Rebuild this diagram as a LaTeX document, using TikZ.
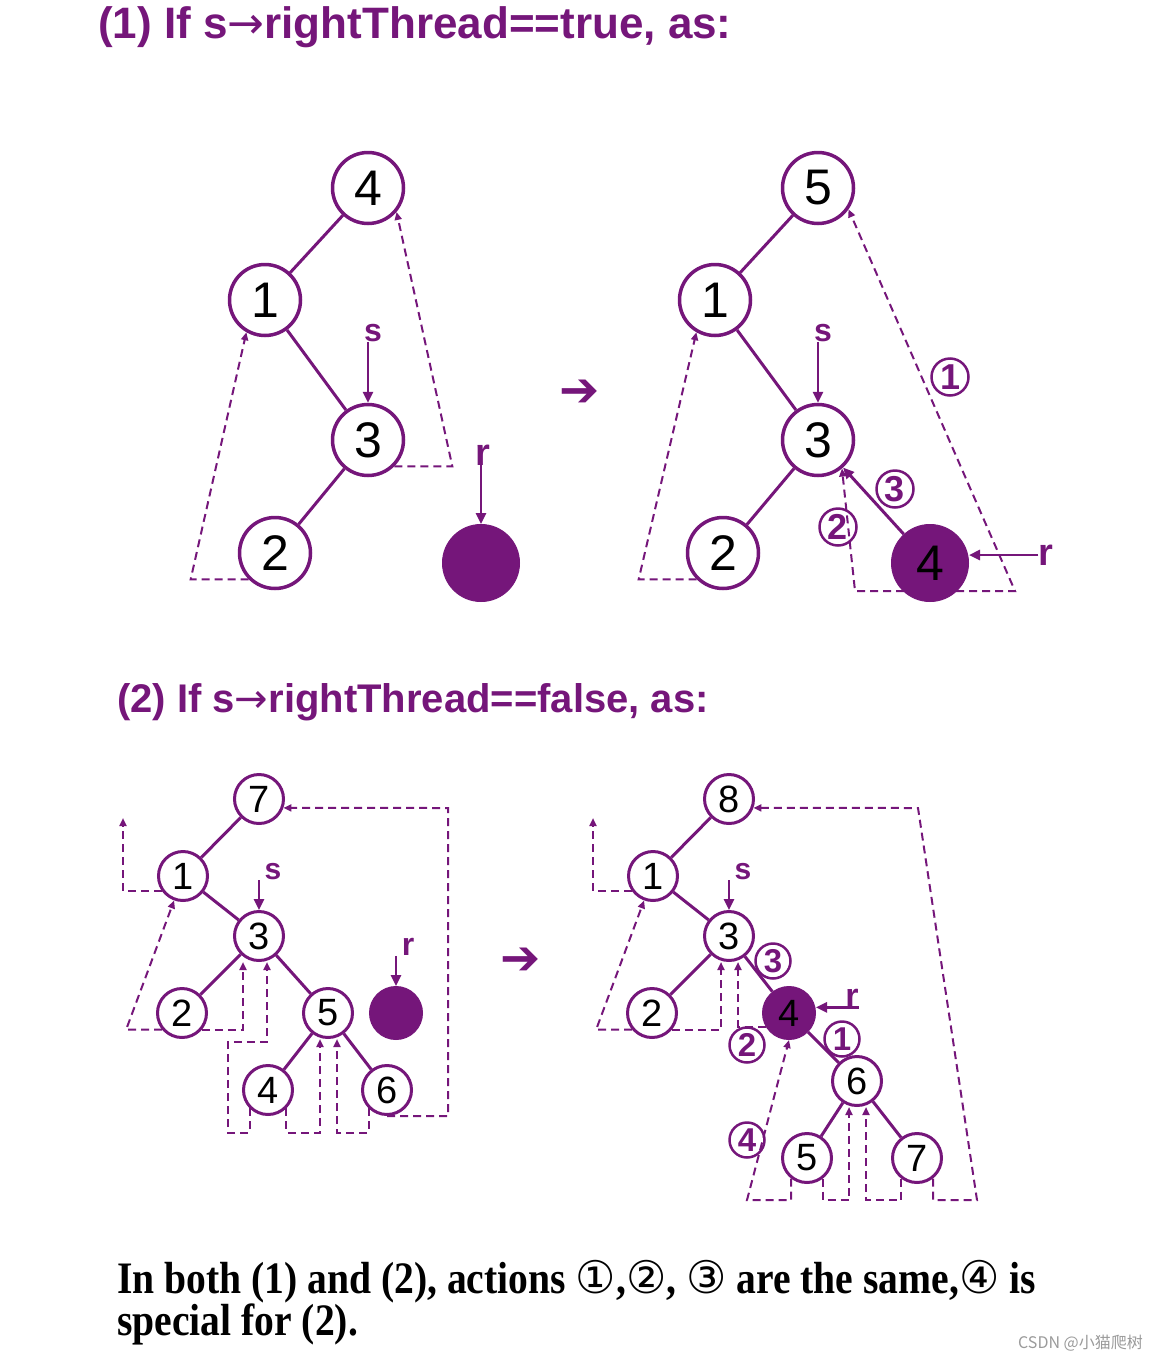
\documentclass[tikz,border=0pt]{standalone}
\usepackage{fontspec}
\setmainfont{Liberation Sans}
\newfontfamily\notefont{Liberation Serif}[FakeStretch=0.88]
\newfontfamily\symfont{DejaVu Sans}
\newfontfamily\cjkfont{Noto Sans CJK SC}
\usepackage{tikz}
\usetikzlibrary{arrows.meta,backgrounds}
\definecolor{thread}{HTML}{75167A}
\definecolor{mark}{HTML}{9A9A9A}

\begin{document}
\begin{tikzpicture}[
  x=1pt,y=-1pt,
  nd/.style={circle,draw=thread,fill=white,line width=3.5pt,minimum size=71pt,
    inner sep=0pt,font=\fontsize{50}{50}\selectfont},
  sm/.style={nd,line width=3pt,minimum size=49pt,font=\fontsize{38}{38}\selectfont},
  full/.style={fill=thread,line width=1pt},
  edge/.style={draw=thread,line width=3pt},
  ptr/.style={draw=thread,line width=2.5pt,-{Triangle[length=11pt,width=10pt]}},
  thr/.style={draw=thread,line width=2pt,dash pattern=on 8pt off 5pt,
    -{Triangle[length=8pt,width=7pt]}},
  num/.style={circle,draw=thread,line width=2.5pt,minimum size=37pt,inner sep=0pt,
    text=thread,font=\bfseries\fontsize{36}{36}\selectfont},
  numsm/.style={num,minimum size=35pt,font=\bfseries\fontsize{33}{33}\selectfont},
  lbl/.style={inner sep=0pt,text=thread,font=\bfseries\fontsize{32}{32}\selectfont},
  title/.style={anchor=base west,inner sep=0pt,text=thread},
  note/.style={anchor=base west,inner sep=0pt,font=\notefont\bfseries\fontsize{45}{45}\selectfont},
  go/.style={inner sep=0pt,text=thread,font=\symfont\fontsize{48}{48}\selectfont}
]
\useasboundingbox (0,0) rectangle (1160,1360);

\node[title,font=\bfseries\fontsize{44}{44}\selectfont] (head1) at (98,38) {(1) If s{\symfont\mdseries →}rightThread==true, as:};

\node[nd] (a4) at (368,188) {4};
\node[nd] (a1) at (265,300) {1};
\node[nd] (a3) at (368,440) {3};
\node[nd] (a2) at (275,553) {2};
\node[nd,full,minimum size=77pt] (ar) at (481,563) {};
\node[lbl] (sa) at (373,333) {s};
\node[lbl,font=\bfseries\fontsize{38}{38}\selectfont] (ra) at (483,455) {r};

\draw[edge] (a4) -- (a1);
\draw[edge] (a1) -- (a3);
\draw[edge] (a3) -- (a2);
\draw[ptr] (sa.south -| a3.north) -- (a3);
\draw[ptr] (ra.south -| ar.north) -- (ar);
\begin{scope}[on background layer]
\draw[thr] (a2.225) -- ++(-58,0) -- (a1.240);
\draw[thr] (a3.315) -- ++(58,0) -- (a4.320);
\end{scope}

\node[go] (go1) at (580,393) {➔};

\node[nd] (b5) at (818,188) {5};
\node[nd] (b1) at (715,300) {1};
\node[nd] (b3) at (818,440) {3};
\node[nd] (b2) at (723,553) {2};
\node[nd,full,minimum size=77pt] (b4) at (930,563) {4};
\node[lbl] (sb) at (823,333) {s};
\node[lbl,font=\bfseries\fontsize{38}{38}\selectfont] (rb) at (1046,555) {r};
\node[num] (ma1) at (950,377) {1};
\node[num] (ma3) at (895,489) {3};
\node[num] (ma2) at (838,527) {2};

\draw[edge] (b5) -- (b1);
\draw[edge] (b1) -- (b3);
\draw[edge] (b3) -- (b2);
\draw[edge,-{Triangle[length=11pt,width=10pt]}] (b4) -- (b3);
\draw[ptr] (sb.south -| b3.north) -- (b3);
\draw[ptr] (rb.west) -- (rb.west -| b4.east);
\begin{scope}[on background layer]
\draw[thr] (b2.225) -- ++(-58,0) -- (b1.240);
\draw[thr] (b4.center) ++(0,28) -- ++(85,0) -- (b5.325);
\draw[thr] (b4.center) ++(0,28) -- ++(-75,0) -- (b3.310);
\end{scope}

\node[title,font=\bfseries\fontsize{40}{40}\selectfont] (head2) at (117,712) {(2) If s{\symfont\mdseries →}rightThread==false, as:};

\node[sm] (c7) at (259,799) {7};
\node[sm] (c1) at (183,876) {1};
\node[sm] (c3) at (259,936) {3};
\node[sm] (c2) at (182,1013) {2};
\node[sm] (c5) at (328,1013) {5};
\node[sm,full,minimum size=53pt] (cr) at (396,1013) {};
\node[sm] (c4) at (268,1090) {4};
\node[sm] (c6) at (387,1090) {6};
\node[lbl,font=\bfseries\fontsize{30}{30}\selectfont] (sc) at (273,872) {s};
\node[lbl,font=\bfseries\fontsize{32}{32}\selectfont] (rc) at (408,947) {r};
\coordinate (c1n) at (123,818);

\draw[edge] (c7) -- (c1);
\draw[edge] (c1) -- (c3);
\draw[edge] (c3) -- (c2);
\draw[edge] (c3) -- (c5);
\draw[edge] (c5) -- (c4);
\draw[edge] (c5) -- (c6);
\draw[ptr] (sc.south -| c3.north) -- (c3);
\draw[ptr] (rc.south -| cr.north) -- (cr);
\begin{scope}[on background layer]
\draw[thr] (c1.215) -| (c1n);
\draw[thr] (c2.220) -- ++(-36,0) -- (c1.250);
\draw[thr] (c2.320) -| (243,0 |- c3.south);
\draw[thr] (c4.225) |- (228,1133) |- (267,1042) -- (267,0 |- c3.south);
\draw[thr] (c4.315) |- (320,1133) -- (320,0 |- c5.south);
\draw[thr] (c6.225) |- (337,1133) -- (337,0 |- c5.south);
\draw[thr] (c6.south) -| (448,808) -- (c7.340);
\end{scope}

\node[go] (go2) at (521,961) {➔};

\node[sm] (d8) at (729,799) {8};
\node[sm] (d1) at (653,876) {1};
\node[sm] (d3) at (729,936) {3};
\node[sm] (d2) at (652,1013) {2};
\node[sm,full,minimum size=53pt] (d4) at (789,1013) {4};
\node[sm] (d6) at (857,1081) {6};
\node[sm] (d5) at (807,1158) {5};
\node[sm] (d7) at (917,1158) {7};
\node[lbl,font=\bfseries\fontsize{30}{30}\selectfont] (sd) at (743,872) {s};
\node[lbl,font=\bfseries\fontsize{34}{34}\selectfont] (rd) at (852,998) {r};
\node[numsm] (mb3) at (773,961) {3};
\node[numsm] (mb1) at (842,1039) {1};
\node[numsm] (mb2) at (747,1045) {2};
\node[numsm] (mb4) at (747,1140) {4};
\coordinate (d1n) at (593,818);

\draw[edge] (d8) -- (d1);
\draw[edge] (d1) -- (d3);
\draw[edge] (d3) -- (d2);
\draw[edge] (d3) -- (d4);
\draw[edge] (d4) -- (d6);
\draw[edge] (d6) -- (d5);
\draw[edge] (d6) -- (d7);
\draw[ptr] (sd.south -| d3.north) -- (d3);
\draw[ptr] (rd.south east) -- (rd.south east -| d4.east);
\begin{scope}[on background layer]
\draw[thr] (d1.215) -| (d1n);
\draw[thr] (d2.220) -- ++(-36,0) -- (d1.250);
\draw[thr] (d2.320) -| (721,0 |- d3.south);
\draw[thr] (d4.210) -| (738,0 |- d3.south);
\draw[thr] (d5.232) |- (747,1200) -- (d4.south);
\draw[thr] (d5.308) |- (849,1200) -- (849,0 |- d6.south);
\draw[thr] (d7.232) |- (866,1200) -- (866,0 |- d6.south);
\draw[thr] (d7.308) |- (977,1200) -- (918,808) -- (d8.340);
\end{scope}

\node[note] (note1) at (117,1293) {In both (1) and (2), actions {\symfont\mdseries ①},{\symfont\mdseries ②}, {\symfont\mdseries ③} are the same,{\symfont\mdseries ④} is};
\node[note] (note2) at (117,1335) {special for (2).};
\node[anchor=base east,inner sep=0pt,text=mark,font=\cjkfont\fontsize{16}{16}\selectfont] (stamp) at (1143,1348) {CSDN @小猫爬树};
\end{tikzpicture}
\end{document}
